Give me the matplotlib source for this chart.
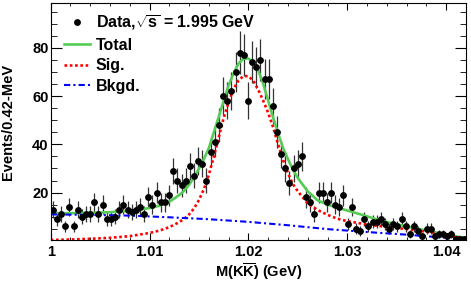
import numpy as np
import matplotlib
matplotlib.use("Agg")
from matplotlib import pyplot as plt
from matplotlib.lines import Line2D
from matplotlib.ticker import MultipleLocator, FuncFormatter

plt.rcParams["font.family"] = ["Liberation Sans", "DejaVu Sans"]
plt.rcParams["font.weight"] = "bold"
plt.rcParams["axes.labelweight"] = "bold"
plt.rcParams["mathtext.fontset"] = "custom"
plt.rcParams["mathtext.rm"] = "Liberation Sans:bold"
plt.rcParams["mathtext.bf"] = "Liberation Sans:bold"
plt.rcParams["mathtext.it"] = "Liberation Sans:bold"

# data: events per 0.42 MeV bin, starting at M = 1.0 GeV
bin_width = 0.00042
counts = [13, 9, 11, 6, 14, 6, 13, 10, 11, 11,
          16, 11, 15, 9, 9, 10, 13, 15, 13, 12,
          13, 14, 11, 18, 15, 20, 16, 16, 19, 29,
          25, 23, 25, 31, 27, 33, 32, 25, 37, 41,
          48, 60, 58, 62, 70, 78, 77, 58, 74, 72,
          75, 67, 67, 56, 45, 36, 30, 24, 30, 32,
          35, 18, 16, 11, 20, 20, 16, 20, 15, 14,
          19, 7, 14, 5, 4, 9, 6, 8, 8, 9,
          7, 5, 7, 6, 9, 6, 3, 6, 4, 2,
          5, 5, 2, 3, 3, 2, 3, 1, 1, 1]

# fit curves (mass offset in MeV above 1 GeV, events)
tot_mev = [0, 2, 4, 6, 8, 10, 11, 12, 13, 13.5, 14, 14.5, 15, 15.5, 16, 16.5,
           17, 17.5, 18, 18.5, 19, 19.5, 20, 20.5, 21, 21.5, 22, 22.5, 23, 23.5,
           24, 24.5, 25, 26, 27, 28, 29, 30, 32, 33, 34, 36, 38, 40, 42]
tot_val = [11.5, 11.5, 11.6, 11.9, 12.5, 13.6, 14.6, 16.2, 19.0, 20.8, 23.3, 26.3,
           30.0, 34.0, 38.5, 45.0, 51.5, 58.0, 64.5, 69.5, 73.5, 75.5, 75.5, 74.0,
           70.5, 65.0, 58.0, 51.0, 44.5, 38.5, 33.8, 29.5, 26.0, 20.5, 16.8, 15.0,
           13.8, 12.6, 10.2, 8.9, 7.8, 6.0, 4.3, 2.6, 1.2]

sig_mev = [0, 2, 4, 6, 8, 10, 11, 12, 13, 13.5, 14, 14.5, 15, 15.5, 16, 16.5,
           17, 17.5, 18, 18.5, 19, 19.5, 20, 20.5, 21, 21.5, 22, 22.5, 23, 23.5,
           24, 24.5, 25, 26, 27, 28, 29, 30, 32, 34, 36, 38, 40, 42]
sig_val = [0.4, 0.6, 0.9, 1.3, 2.0, 3.3, 4.3, 5.7, 7.8, 9.2, 11.0, 13.5, 17.0,
           21.5, 27.5, 35.0, 43.0, 51.0, 57.5, 63.0, 66.5, 68.3, 68.2, 66.3, 62.5,
           58.0, 53.0, 47.0, 40.0, 33.5, 28.0, 23.5, 20.5, 15.5, 12.8, 10.8, 9.2,
           8.2, 6.8, 5.8, 4.9, 3.8, 2.4, 0.9]

bkg_mev = [0, 4, 8, 12, 16, 20, 24, 28, 32, 36, 40, 42]
bkg_val = [11.0, 10.8, 10.5, 9.8, 9.0, 7.9, 6.5, 4.9, 3.7, 2.6, 1.3, 0.5]

x_data = 1.0 + bin_width * (np.arange(len(counts)) + 0.5)
y_data = np.array(counts, dtype=float)
y_err = np.sqrt(y_data)

fig = plt.figure(figsize=(4.71, 2.94), dpi=100)
ax = fig.add_axes([0.1076, 0.1837, 0.8818, 0.8051])

ax.errorbar(x_data, y_data, yerr=y_err, fmt="o", color="black", ms=3.9,
            ecolor="#333333", elinewidth=0.9, capsize=0)

l_tot, = ax.plot(1.0 + np.array(tot_mev) / 1000, tot_val, color="#55cc55",
                 lw=1.9, label="Total")
l_sig, = ax.plot(1.0 + np.array(sig_mev) / 1000, sig_val, color="#ff0000",
                 lw=1.9, linestyle=(0, (1, 1)), label="Sig.")
l_bkg, = ax.plot(1.0 + np.array(bkg_mev) / 1000, bkg_val, color="#0000ff",
                 lw=1.5, linestyle=(0, (3, 1.5, 1, 1.5)), label="Bkgd.")
h_data = Line2D([], [], marker="o", ms=3.9, color="black", linestyle="none")

ax.set_xlim(1.0, 1.042)
ax.set_ylim(0.4, 98.4)

ax.xaxis.set_major_locator(MultipleLocator(0.01))
ax.xaxis.set_minor_locator(MultipleLocator(0.002))
ax.yaxis.set_major_locator(MultipleLocator(20))
ax.yaxis.set_minor_locator(MultipleLocator(5))
ax.xaxis.set_major_formatter(FuncFormatter(lambda v, p: "%g" % round(v, 3)))

ax.tick_params(axis="both", which="both", direction="in", top=True, right=True,
               labelsize=10.5)
ax.tick_params(axis="x", which="major", length=4.7, pad=3.5)
ax.tick_params(axis="x", which="minor", length=2.4)
ax.tick_params(axis="y", which="major", length=8, pad=1.5)
ax.tick_params(axis="y", which="minor", length=4)

ax.set_xlabel(r"M(K$\overline{\mathrm{K}}$) (GeV)", fontsize=10.5)
ax.set_ylabel("Events/0.42-MeV", fontsize=10.5)
ax.xaxis.set_label_coords(0.5, -0.09)
ax.yaxis.set_label_coords(-0.086, 0.5)

ax.legend([h_data, l_tot, l_sig, l_bkg],
          [r"Data,$\sqrt{s}$ = 1.995 GeV", "Total", "Sig.", "Bkgd."],
          loc="upper left", bbox_to_anchor=(0.01, 1.0), frameon=False,
          fontsize=11.5, handlelength=1.6, handletextpad=0.35,
          labelspacing=0.36, borderaxespad=0.2)

plt.savefig("out.png", dpi=100)
